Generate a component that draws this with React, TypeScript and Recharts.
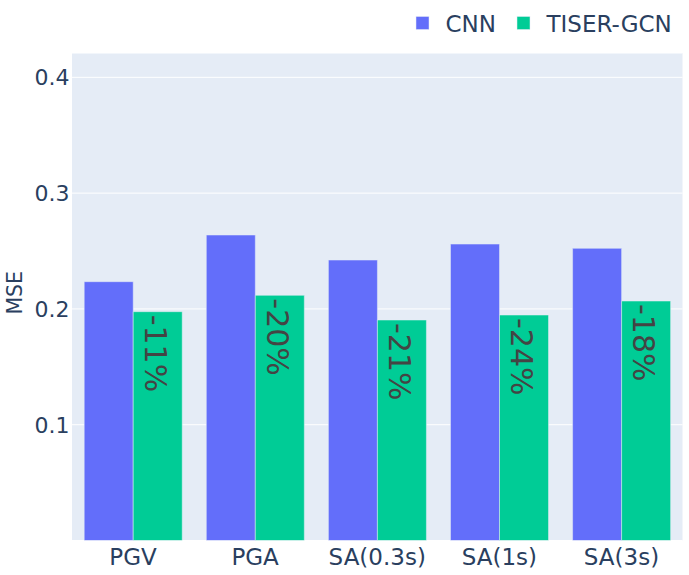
import React from 'react';
import { BarChart, Bar, XAxis, YAxis, CartesianGrid, Legend, LabelList } from 'recharts';

const categories = ['PGV', 'PGA', 'SA(0.3s)', 'SA(1s)', 'SA(3s)'];
const cnnValues = [0.2235, 0.2638, 0.2422, 0.256, 0.2523];
const tiserValues = [0.1976, 0.2117, 0.1904, 0.1947, 0.2068];
const changeLabels = ['-11%', '-20%', '-21%', '-24%', '-18%'];
const yTicks = [0.1, 0.2, 0.3, 0.4];
const seriesNames = ['CNN', 'TISER-GCN'];
const seriesColors = ['#636efa', '#00cc96'];

const data = categories.map((c, i) => ({
  category: c,
  cnn: cnnValues[i],
  tiser: tiserValues[i],
  change: changeLabels[i],
}));

const FONT = '"DejaVu Sans", Verdana, sans-serif';
const TEXT = '#2a3f5f';
const BG = '#E5ECF6';

const XTick = (props: any) => {
  const { x, y, payload } = props;
  return (
    <text x={x} y={y} dy={24} textAnchor="middle" fill={TEXT} style={{ fontSize: 23, fontFamily: FONT }}>
      {payload.value}
    </text>
  );
};

const YTick = (props: any) => {
  const { x, y, payload } = props;
  return (
    <text x={x} y={y} dy={8} textAnchor="end" fill={TEXT} style={{ fontSize: 22, fontFamily: FONT }}>
      {String(payload.value)}
    </text>
  );
};

const YTitle = (props: any) => {
  const vb = props.viewBox || { x: 0, y: 53, width: 72, height: 487 };
  const cx = 15;
  const cy = vb.y + vb.height / 2 - 4;
  return (
    <text
      x={cx}
      y={cy}
      transform={`rotate(-90 ${cx} ${cy})`}
      textAnchor="middle"
      dominantBaseline="central"
      fill={TEXT}
      style={{ fontSize: 20.5, fontFamily: FONT }}
    >
      MSE
    </text>
  );
};

const ChangeLabel = (props: any) => {
  const { x, y, width, value } = props;
  const cx = Number(x) + Number(width) / 2;
  const ty = Number(y);
  return (
    <text
      x={cx}
      y={ty}
      dx={3}
      dy={13}
      transform={`rotate(90 ${cx} ${ty})`}
      textAnchor="start"
      fill="#444444"
      style={{ fontSize: 30, fontFamily: FONT }}
    >
      {value}
    </text>
  );
};

const LegendContent = () => (
  <svg width={689} height={53} style={{ display: 'block' }}>
    <rect x={416} y={16.5} width={13} height={13} fill={seriesColors[0]} stroke={BG} strokeWidth={0.5} />
    <text x={445.5} y={32} fill={TEXT} style={{ fontSize: 23, fontFamily: FONT }}>
      {seriesNames[0]}
    </text>
    <rect x={517} y={16.5} width={13} height={13} fill={seriesColors[1]} stroke={BG} strokeWidth={0.5} />
    <text x={546.5} y={32} fill={TEXT} style={{ fontSize: 23, fontFamily: FONT }}>
      {seriesNames[1]}
    </text>
  </svg>
);

export default function App() {
  return (
    <div style={{ position: 'absolute', left: 0, top: 0, width: 689, height: 575, background: '#fff' }}>
      <BarChart
        width={689}
        height={575}
        data={data}
        margin={{ top: 0, right: 6.5, bottom: 0, left: 0 }}
        barCategoryGap="10%"
        barGap={0}
      >
        <Legend
          verticalAlign="top"
          align="left"
          content={<LegendContent />}
          wrapperStyle={{ top: 0, left: 0, width: 689, height: 53 }}
        />
        <CartesianGrid vertical={false} fill={BG} stroke="#ffffff" strokeWidth={1} />
        <XAxis
          dataKey="category"
          height={34.5}
          axisLine={false}
          tickLine={false}
          tickSize={0}
          tickMargin={0}
          tick={<XTick />}
          interval={0}
        />
        <YAxis
          width={72}
          domain={[0, 0.421]}
          ticks={yTicks}
          axisLine={false}
          tickLine={false}
          tickSize={0}
          tickMargin={2.5}
          tick={<YTick />}
          allowDataOverflow
          label={<YTitle />}
        />
        <Bar dataKey="cnn" name={seriesNames[0]} fill={seriesColors[0]} stroke={BG} strokeWidth={0.5} isAnimationActive={false} />
        <Bar dataKey="tiser" name={seriesNames[1]} fill={seriesColors[1]} stroke={BG} strokeWidth={0.5} isAnimationActive={false}>
          <LabelList dataKey="change" content={<ChangeLabel />} />
        </Bar>
      </BarChart>
    </div>
  );
}
